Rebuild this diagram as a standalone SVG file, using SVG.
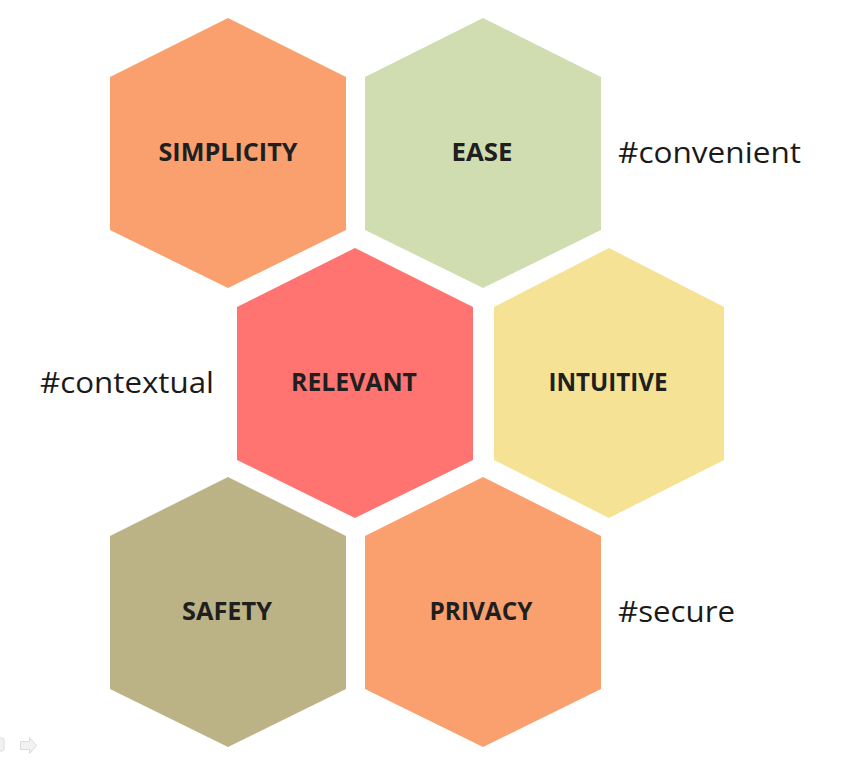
<svg xmlns="http://www.w3.org/2000/svg" width="843" height="767" viewBox="0 0 843 767">
  <style>
    .hex-label { font-family: "Open Sans", "Noto Sans", "Liberation Sans", sans-serif; font-weight: 700; font-size: 25px; fill: #1f1f1f; text-anchor: middle; }
    .tag { font-family: "Open Sans", "Noto Sans", "Liberation Sans", sans-serif; font-weight: 400; font-size: 30px; fill: #1a1a1a; }
  </style>
  <defs>
    <!-- pointy-top hexagon centred on the origin -->
    <polygon id="hex" points="0,-135 118,-76 118,77 0,135 -118,77 -118,-76"/>
  </defs>
  <rect width="843" height="767" fill="#ffffff"/>

  <g id="simplicity" transform="translate(228,153)">
    <use href="#hex" fill="#F9A06E"/>
    <text class="hex-label" x="0" y="8" textLength="139" lengthAdjust="spacingAndGlyphs">SIMPLICITY</text>
  </g>
  <g id="ease" transform="translate(483,153)">
    <use href="#hex" fill="#CFDDB0"/>
    <text class="hex-label" x="-1" y="8" textLength="61" lengthAdjust="spacingAndGlyphs">EASE</text>
  </g>
  <g id="relevant" transform="translate(355,383)">
    <use href="#hex" fill="#FF7370"/>
    <text class="hex-label" x="-1" y="8" textLength="126" lengthAdjust="spacingAndGlyphs">RELEVANT</text>
  </g>
  <g id="intuitive" transform="translate(609,383)">
    <use href="#hex" fill="#F6E294" transform="scale(0.975,1)"/>
    <text class="hex-label" x="-1" y="8" textLength="119" lengthAdjust="spacingAndGlyphs">INTUITIVE</text>
  </g>
  <g id="safety" transform="translate(228,612)">
    <use href="#hex" fill="#BBB386"/>
    <text class="hex-label" x="-1" y="8" textLength="90" lengthAdjust="spacingAndGlyphs">SAFETY</text>
  </g>
  <g id="privacy" transform="translate(483,612)">
    <use href="#hex" fill="#F9A06E"/>
    <text class="hex-label" x="-2" y="8" textLength="103" lengthAdjust="spacingAndGlyphs">PRIVACY</text>
  </g>

  <g id="tags">
    <text class="tag" x="618" y="163" textLength="183" lengthAdjust="spacingAndGlyphs">#convenient</text>
    <text class="tag" x="40" y="393" textLength="174" lengthAdjust="spacingAndGlyphs">#contextual</text>
    <text class="tag" x="618" y="622" textLength="117" lengthAdjust="spacingAndGlyphs">#secure</text>
  </g>

  <g id="connectors"/>

  <!-- faint navigation controls, lower left -->
  <g id="nav" fill="#f2f2f2" stroke="#dcdcdc" stroke-width="1">
    <rect x="-3" y="738" width="7" height="13" rx="2"/>
    <polygon points="20.5,741.5 29.5,741.5 29.5,737.5 36.5,745.5 29.5,753.5 29.5,749.5 20.5,749.5"/>
  </g>
</svg>
